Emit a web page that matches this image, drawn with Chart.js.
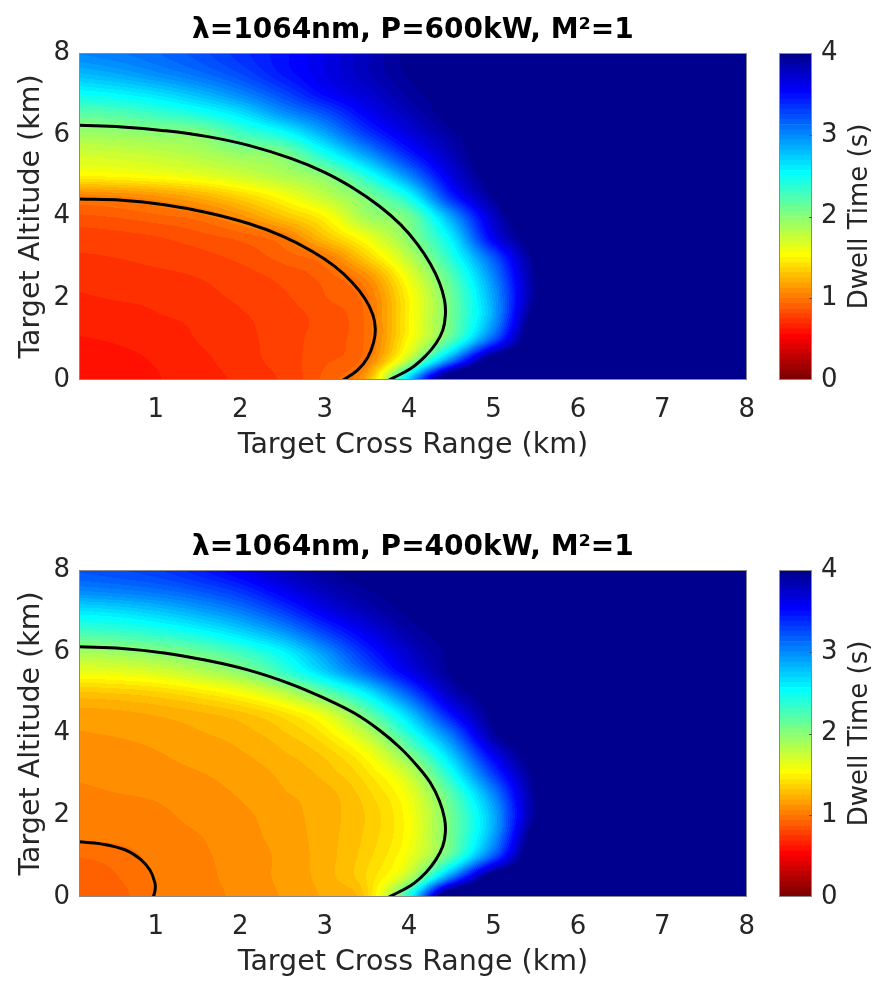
<!DOCTYPE html>
<html>
<head>
<meta charset="utf-8">
<script src="https://cdn.jsdelivr.net/npm/chart.js@4.4.1/dist/chart.umd.min.js"></script>
<style>
  body { margin: 0; background: #fff; overflow: hidden; }
  canvas { position: absolute; }
</style>
</head>
<body>
<canvas id="plotTop" width="770" height="474" style="left:0px;top:0px"></canvas>
<canvas id="barTop" width="121" height="474" style="left:760px;top:0px"></canvas>
<canvas id="plotBottom" width="770" height="474" style="left:0px;top:517px"></canvas>
<canvas id="barBottom" width="121" height="474" style="left:760px;top:517px"></canvas>
<script>
const crossRangeKm = [0, 0.5, 1, 1.5, 2, 2.5, 3, 3.5, 4, 4.5, 5, 5.5, 6, 8];
const altitudeKm = [0, 0.5, 1, 1.5, 2, 2.5, 3, 3.5, 4, 4.5, 5, 5.5, 6, 6.5, 7, 7.5, 8];

// one row per altitude, one value per cross range (values past 4 s are saturated)
const dwell600kW = [
  [0.60, 0.60, 0.62, 0.66, 0.70, 0.76, 0.90, 1.20, 2.75, 4.40, 4.4, 4.4, 4.4, 4.4],
  [0.60, 0.61, 0.63, 0.67, 0.72, 0.78, 0.86, 1.00, 1.80, 3.00, 4.10, 4.2, 4.2, 4.2],
  [0.62, 0.63, 0.65, 0.69, 0.73, 0.78, 0.85, 0.96, 1.53, 2.20, 3.20, 4.2, 4.2, 4.2],
  [0.65, 0.66, 0.68, 0.70, 0.74, 0.78, 0.84, 0.96, 1.50, 2.10, 2.90, 4.1, 4.2, 4.2],
  [0.68, 0.69, 0.70, 0.73, 0.76, 0.80, 0.87, 0.98, 1.50, 2.10, 2.90, 3.95, 4.2, 4.2],
  [0.70, 0.71, 0.73, 0.75, 0.78, 0.83, 0.90, 1.08, 1.60, 2.20, 3.00, 3.95, 4.2, 4.2],
  [0.74, 0.75, 0.77, 0.79, 0.83, 0.90, 1.00, 1.35, 1.80, 2.40, 3.20, 4.0, 4.2, 4.2],
  [0.78, 0.79, 0.81, 0.85, 0.90, 1.00, 1.30, 1.60, 2.00, 2.60, 3.60, 4.1, 4.2, 4.2],
  [0.86, 0.88, 0.92, 0.97, 1.10, 1.30, 1.50, 1.90, 2.10, 2.90, 3.75, 4.2, 4.2, 4.2],
  [1.03, 1.06, 1.12, 1.22, 1.37, 1.55, 1.78, 2.05, 2.50, 3.40, 3.95, 4.3, 4.3, 4.3],
  [1.50, 1.52, 1.56, 1.62, 1.72, 1.84, 2.00, 2.42, 3.00, 3.65, 4.05, 4.2, 4.2, 4.2],
  [1.70, 1.72, 1.76, 1.83, 1.93, 2.02, 2.43, 2.90, 3.40, 3.80, 4.10, 4.2, 4.2, 4.2],
  [1.90, 1.92, 1.96, 2.00, 2.25, 2.45, 2.85, 3.30, 3.65, 3.90, 4.10, 4.2, 4.2, 4.2],
  [2.17, 2.20, 2.30, 2.42, 2.62, 2.93, 3.20, 3.55, 3.80, 4.00, 4.1, 4.1, 4.1, 4.1],
  [2.50, 2.55, 2.65, 2.80, 3.00, 3.25, 3.52, 3.70, 3.90, 4.00, 4.1, 4.1, 4.1, 4.1],
  [2.80, 2.87, 2.98, 3.10, 3.25, 3.45, 3.62, 3.80, 3.95, 4.00, 4.1, 4.1, 4.1, 4.1],
  [3.00, 3.05, 3.12, 3.22, 3.35, 3.48, 3.62, 3.80, 3.97, 4.00, 4.1, 4.1, 4.1, 4.1]
];

const dwell400kW = [
  [0.88, 0.90, 1.00, 1.03, 1.08, 1.13, 1.20, 1.35, 2.45, 4.40, 4.4, 4.4, 4.4, 4.4],
  [0.90, 0.93, 1.01, 1.04, 1.09, 1.14, 1.22, 1.38, 1.80, 3.00, 4.10, 4.2, 4.2, 4.2],
  [0.94, 0.96, 1.02, 1.05, 1.09, 1.14, 1.22, 1.35, 1.60, 2.20, 3.20, 4.2, 4.2, 4.2],
  [1.02, 1.02, 1.04, 1.06, 1.10, 1.15, 1.22, 1.33, 1.55, 2.10, 2.90, 4.1, 4.2, 4.2],
  [1.03, 1.04, 1.05, 1.08, 1.11, 1.16, 1.22, 1.32, 1.55, 2.10, 2.85, 3.95, 4.2, 4.2],
  [1.05, 1.06, 1.07, 1.10, 1.13, 1.18, 1.22, 1.35, 1.60, 2.20, 3.00, 3.95, 4.2, 4.2],
  [1.07, 1.08, 1.10, 1.12, 1.15, 1.20, 1.27, 1.42, 1.75, 2.45, 3.30, 4.0, 4.2, 4.2],
  [1.10, 1.10, 1.12, 1.15, 1.18, 1.24, 1.33, 1.55, 2.05, 2.75, 3.60, 4.1, 4.2, 4.2],
  [1.12, 1.13, 1.15, 1.18, 1.22, 1.30, 1.45, 1.80, 2.40, 3.10, 3.90, 4.2, 4.2, 4.2],
  [1.16, 1.17, 1.20, 1.24, 1.30, 1.42, 1.65, 2.15, 2.75, 3.50, 4.00, 4.2, 4.2, 4.2],
  [1.30, 1.32, 1.36, 1.44, 1.56, 1.78, 2.15, 2.60, 3.20, 3.80, 4.05, 4.2, 4.2, 4.2],
  [1.60, 1.62, 1.68, 1.80, 1.97, 2.30, 2.70, 3.15, 3.60, 3.95, 4.1, 4.2, 4.2, 4.2],
  [1.88, 1.93, 2.01, 2.12, 2.30, 2.55, 2.95, 3.40, 3.75, 3.97, 4.1, 4.2, 4.2, 4.2],
  [2.28, 2.32, 2.40, 2.52, 2.70, 2.95, 3.30, 3.62, 3.88, 4.00, 4.1, 4.1, 4.1, 4.1],
  [2.62, 2.66, 2.75, 2.88, 3.05, 3.30, 3.60, 3.82, 3.97, 4.05, 4.1, 4.1, 4.1, 4.1],
  [3.00, 3.04, 3.10, 3.20, 3.35, 3.58, 3.80, 3.93, 4.00, 4.05, 4.1, 4.1, 4.1, 4.1],
  [3.20, 3.24, 3.30, 3.42, 3.58, 3.78, 3.92, 4.00, 4.05, 4.1, 4.1, 4.1, 4.1, 4.1]
];

// black contour lines (1 s and 2 s)
const contour600kW_1s = [
  {x: 0.09, y: 4.43}, {x: 0.6, y: 4.40}, {x: 1.1, y: 4.29}, {x: 1.6, y: 4.10}, {x: 2.1, y: 3.83},
  {x: 2.5, y: 3.52}, {x: 2.85, y: 3.15}, {x: 3.12, y: 2.78}, {x: 3.33, y: 2.38}, {x: 3.48, y: 1.98},
  {x: 3.57, y: 1.60}, {x: 3.60, y: 1.25}, {x: 3.58, y: 0.92}, {x: 3.51, y: 0.55}, {x: 3.39, y: 0.24},
  {x: 3.22, y: 0}
];
const contour600kW_2s = [
  {x: 0.09, y: 6.23}, {x: 0.6, y: 6.19}, {x: 1.1, y: 6.10}, {x: 1.6, y: 5.96}, {x: 2.1, y: 5.74},
  {x: 2.6, y: 5.42}, {x: 3.0, y: 5.08}, {x: 3.35, y: 4.68}, {x: 3.65, y: 4.25}, {x: 3.9, y: 3.80},
  {x: 4.1, y: 3.32}, {x: 4.25, y: 2.85}, {x: 4.36, y: 2.38}, {x: 4.42, y: 1.95}, {x: 4.43, y: 1.58},
  {x: 4.40, y: 1.22}, {x: 4.32, y: 0.90}, {x: 4.20, y: 0.60}, {x: 4.02, y: 0.28}, {x: 3.76, y: 0}
];
const contour400kW_1s = [
  {x: 0.09, y: 1.35}, {x: 0.35, y: 1.30}, {x: 0.64, y: 1.15}, {x: 0.82, y: 0.92},
  {x: 0.93, y: 0.66}, {x: 0.99, y: 0.34}, {x: 0.99, y: 0.15}, {x: 0.97, y: 0}
];
const contour400kW_2s = [
  {x: 0.09, y: 6.12}, {x: 0.6, y: 6.08}, {x: 1.1, y: 5.97}, {x: 1.6, y: 5.79}, {x: 2.1, y: 5.55},
  {x: 2.6, y: 5.21}, {x: 3.0, y: 4.86}, {x: 3.35, y: 4.50}, {x: 3.65, y: 4.08}, {x: 3.9, y: 3.64},
  {x: 4.1, y: 3.20}, {x: 4.25, y: 2.80}, {x: 4.36, y: 2.35}, {x: 4.42, y: 1.92}, {x: 4.43, y: 1.58},
  {x: 4.40, y: 1.25}, {x: 4.32, y: 0.92}, {x: 4.20, y: 0.60}, {x: 4.02, y: 0.28}, {x: 3.76, y: 0}
];

const xTicks = [1, 2, 3, 4, 5, 6, 7, 8];
const yTicks = [0, 2, 4, 6, 8];
const colorbarTicks = [0, 1, 2, 3, 4];

const FONT = "'DejaVu Sans', 'Liberation Sans', Arial, sans-serif";
const TEXT = '#262626';
const NBANDS = 64;
const VMAX = 4;

// matlab jet(64), row i = 1..64
function jetRow(i) {
  const u = k => (k < 1 || k > 47) ? 0 : (k <= 16 ? k / 16 : (k <= 31 ? 1 : (48 - k) / 16));
  return [u(i - 24), u(i - 8), u(i + 8)];
}
// band k (0 = shortest dwell) uses flipped jet
function bandRgb(k) {
  return jetRow(NBANDS - k).map(c => Math.round(c * 255));
}
function bandIndex(v) {
  return Math.max(0, Math.min(NBANDS - 1, Math.floor(v / VMAX * NBANDS)));
}

// fractional grid index of a value
function gridPos(arr, v) {
  if (v <= arr[0]) return 0;
  for (let i = 0; i < arr.length - 1; i++) {
    if (v <= arr[i + 1]) return i + (v - arr[i]) / (arr[i + 1] - arr[i]);
  }
  return arr.length - 1;
}

function cubic(p0, p1, p2, p3, t) {
  return 0.5 * (2 * p1 + (p2 - p0) * t + (2 * p0 - 5 * p1 + 4 * p2 - p3) * t * t + (3 * p1 - p0 - 3 * p2 + p3) * t * t * t);
}

// smooth (catmull-rom) lookup into the read grid
function sampleGrid(grid, fx, fy) {
  const nx = grid[0].length, ny = grid.length;
  const ix = Math.min(Math.floor(fx), nx - 2), iy = Math.min(Math.floor(fy), ny - 2);
  const tx = fx - ix, ty = fy - iy;
  const cx = k => Math.max(0, Math.min(nx - 1, k));
  const cy = k => Math.max(0, Math.min(ny - 1, k));
  const rows = [];
  for (let m = -1; m <= 2; m++) {
    const r = grid[cy(iy + m)];
    rows.push(cubic(r[cx(ix - 1)], r[cx(ix)], r[cx(ix + 1)], r[cx(ix + 2)], tx));
  }
  return cubic(rows[0], rows[1], rows[2], rows[3], ty);
}

// paints the dwell map into the plot area using the chart scales
const heatmapPlugin = {
  id: 'heatmap',
  beforeDatasetsDraw(chart, args, opts) {
    const {ctx, chartArea: a, scales: {x, y}} = chart;
    const grid = opts.grid;
    const w = Math.round(a.right - a.left), h = Math.round(a.bottom - a.top);
    const off = document.createElement('canvas');
    off.width = w; off.height = h;
    const octx = off.getContext('2d');
    const img = octx.createImageData(w, h);
    const cols = [];
    for (let i = 0; i < w; i++) cols.push(gridPos(crossRangeKm, x.getValueForPixel(a.left + i + 0.5)));
    const lut = [];
    for (let k = 0; k < NBANDS; k++) lut.push(bandRgb(k));
    for (let j = 0; j < h; j++) {
      const fy = gridPos(altitudeKm, y.getValueForPixel(a.top + j + 0.5));
      for (let i = 0; i < w; i++) {
        const rgb = lut[bandIndex(sampleGrid(grid, cols[i], fy))];
        const p = (j * w + i) * 4;
        img.data[p] = rgb[0]; img.data[p + 1] = rgb[1]; img.data[p + 2] = rgb[2]; img.data[p + 3] = 255;
      }
    }
    octx.putImageData(img, 0, 0);
    ctx.drawImage(off, a.left, a.top);
  }
};

const boxPlugin = {
  id: 'box',
  afterDraw(chart) {
    const {ctx, chartArea: a} = chart;
    ctx.save();
    ctx.strokeStyle = '#8a8a8a';
    ctx.lineWidth = 1;
    ctx.strokeRect(Math.round(a.left) + 0.5, Math.round(a.top) + 0.5, Math.round(a.right - a.left) - 1, Math.round(a.bottom - a.top) - 1);
    ctx.restore();
  }
};

const colorbarLabelPlugin = {
  id: 'cbLabel',
  afterDraw(chart) {
    const {ctx, chartArea: a, scales: {y}} = chart;
    ctx.save();
    ctx.strokeStyle = '#555';
    ctx.lineWidth = 1;
    colorbarTicks.slice(1, -1).forEach(t => {
      const py = Math.round(y.getPixelForValue(t)) + 0.5;
      ctx.beginPath(); ctx.moveTo(a.right - 3, py); ctx.lineTo(a.right, py); ctx.stroke();
    });
    ctx.translate(100, (a.top + a.bottom) / 2);
    ctx.rotate(-Math.PI / 2);
    ctx.fillStyle = TEXT;
    ctx.font = '26px ' + FONT;
    ctx.textAlign = 'center';
    ctx.textBaseline = 'middle';
    ctx.fillText('Dwell Time (s)', 0, 0);
    ctx.restore();
  }
};

function makePanel(id, title, grid, lines) {
  new Chart(document.getElementById(id), {
    type: 'scatter',
    data: {
      datasets: lines.map(pts => ({
        data: pts, showLine: true, borderColor: '#000', borderWidth: 3,
        pointRadius: 0, tension: 0.4, fill: false
      }))
    },
    options: {
      responsive: false,
      animation: false,
      devicePixelRatio: 1,
      layout: {padding: {left: 0, right: 15, top: 0, bottom: 0}},
      plugins: {
        legend: {display: false},
        tooltip: {enabled: false},
        title: {
          display: true, text: title, fullSize: false, color: '#000',
          font: {family: FONT, size: 28, weight: 'bold', lineHeight: 1.2},
          padding: {top: 14.2, bottom: 5.2}
        },
        heatmap: {grid: grid}
      },
      scales: {
        x: {
          type: 'linear', min: 0.09, max: 8,
          grid: {display: false, drawTicks: false},
          border: {display: false},
          afterBuildTicks: s => { s.ticks = xTicks.map(v => ({value: v})); },
          afterFit: s => { s.height = 94; },
          ticks: {color: TEXT, font: {family: FONT, size: 26}, padding: 15, maxRotation: 0, autoSkip: false},
          title: {display: true, text: 'Target Cross Range (km)', color: TEXT,
                  font: {family: FONT, size: 28.5, lineHeight: 1.2}, padding: {top: 0, bottom: 10.9}}
        },
        y: {
          type: 'linear', min: 0, max: 8,
          grid: {display: false, drawTicks: false},
          border: {display: false},
          afterBuildTicks: s => { s.ticks = yTicks.map(v => ({value: v})); },
          afterFit: s => { s.width = 79; },
          ticks: {color: TEXT, font: {family: FONT, size: 26}, padding: 9, autoSkip: false},
          title: {display: true, text: 'Target Altitude (km)', color: TEXT,
                  font: {family: FONT, size: 28.5, lineHeight: 1.2}, padding: {top: 14.9, bottom: 0}}
        }
      }
    },
    plugins: [heatmapPlugin, boxPlugin]
  });
}

function makeColorbar(id) {
  const datasets = [];
  for (let k = 0; k < NBANDS; k++) {
    const c = bandRgb(k);
    datasets.push({
      data: [VMAX / NBANDS],
      backgroundColor: 'rgb(' + c.join(',') + ')',
      borderWidth: 0, barPercentage: 1, categoryPercentage: 1
    });
  }
  new Chart(document.getElementById(id), {
    type: 'bar',
    data: {labels: [''], datasets: datasets},
    options: {
      responsive: false,
      animation: false,
      devicePixelRatio: 1,
      layout: {padding: {left: 19, top: 53, bottom: 94, right: 0}},
      plugins: {legend: {display: false}, tooltip: {enabled: false}},
      scales: {
        x: {stacked: true, display: false},
        y: {
          stacked: true, position: 'right', min: 0, max: VMAX,
          grid: {display: false, drawTicks: false},
          border: {display: false},
          afterBuildTicks: s => { s.ticks = colorbarTicks.map(v => ({value: v})); },
          afterFit: s => { s.width = 69; },
          ticks: {color: TEXT, font: {family: FONT, size: 26}, padding: 9}
        }
      }
    },
    plugins: [boxPlugin, colorbarLabelPlugin]
  });
}

makePanel('plotTop', 'λ=1064nm, P=600kW, M²=1', dwell600kW, [contour600kW_1s, contour600kW_2s]);
makeColorbar('barTop');
makePanel('plotBottom', 'λ=1064nm, P=400kW, M²=1', dwell400kW, [contour400kW_1s, contour400kW_2s]);
makeColorbar('barBottom');
</script>
</body>
</html>
